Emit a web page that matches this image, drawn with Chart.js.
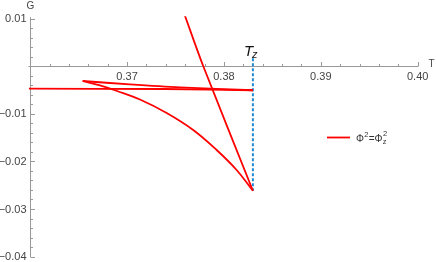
<!DOCTYPE html>
<html>
<head>
<meta charset="utf-8">
<script src="https://cdn.jsdelivr.net/npm/chart.js@4"></script>
<style>
html, body { margin: 0; padding: 0; background: #fff; }
</style>
</head>
<body>
<canvas id="gChart" width="436" height="262"></canvas>
<script>
// branches of G(T) for Phi^2 = Phi_z^2
// steep branch, from the top down to the lower cusp
const steepT = [0.37590, 0.37786, 0.38299];
const steepG = [0.01103, 0.00004, -0.02616];
// curved branch, lower cusp back up to the left cusp
const bowT = [0.38299, 0.38131, 0.37925, 0.37683, 0.37409, 0.37133, 0.36896, 0.36720, 0.36542];
const bowG = [-0.02616, -0.02181, -0.01761, -0.01340, -0.00983, -0.00700, -0.00521, -0.00405, -0.00311];
// short branch from left cusp to T_z
const innerT = [0.36542, 0.37030, 0.37546, 0.38299];
const innerG = [-0.00311, -0.00384, -0.00447, -0.00506];
// flat branch from T_z out to the left edge
const flatT = [0.38299, 0.37391, 0.35985];
const flatG = [-0.00506, -0.00479, -0.00473];

// dashed marker at T_z
const tzT = [0.38299, 0.38299];
const tzG = [0.00166, -0.02616];

const xTicks = [0.37, 0.38, 0.39, 0.40];
const yTicks = [0.01, -0.01, -0.02, -0.03, -0.04];
const legendLabel = ['\u03A6', '2', '=\u03A6', 'z', '2'];

const toPoints = (xs, ys) => xs.map((x, i) => ({ x: x, y: ys[i] }));

const redLine = (xs, ys, tension) => ({
  data: toPoints(xs, ys),
  showLine: true,
  borderColor: '#ff0000',
  borderWidth: 1.8,
  pointRadius: 0,
  tension: tension
});

const axesPlugin = {
  id: 'mmaAxes',
  beforeDatasetsDraw(chart) {
    const ctx = chart.ctx, sx = chart.scales.x, sy = chart.scales.y;
    const x0 = Math.round(sx.getPixelForValue(0.36)) + 0.5;
    const y0 = Math.round(sy.getPixelForValue(0)) + 0.5;
    ctx.save();
    ctx.strokeStyle = '#999';
    ctx.lineWidth = 1;
    ctx.beginPath();
    ctx.moveTo(x0 - 2, y0);
    ctx.lineTo(sx.getPixelForValue(0.40) + 0.5, y0);
    ctx.moveTo(x0, sy.getPixelForValue(0.0103));
    ctx.lineTo(x0, sy.getPixelForValue(-0.04) + 0.5);
    // x ticks point up
    for (let i = 0; i <= 20; i++) {
      const px = Math.round(sx.getPixelForValue(0.36 + i * 0.002)) + 0.5;
      const len = i % 5 === 0 ? 4.5 : 2.5;
      ctx.moveTo(px, y0);
      ctx.lineTo(px, y0 - len);
    }
    // y ticks point right
    for (let i = -20; i <= 5; i++) {
      const py = Math.round(sy.getPixelForValue(i * 0.002)) + 0.5;
      const len = i % 5 === 0 ? 4.5 : 2.5;
      ctx.moveTo(x0, py);
      ctx.lineTo(x0 + len, py);
    }
    ctx.stroke();

    ctx.fillStyle = '#444';
    ctx.font = '11px "Liberation Sans", Arial, sans-serif';
    ctx.textAlign = 'center';
    ctx.textBaseline = 'top';
    xTicks.forEach(v => ctx.fillText(v.toFixed(2), sx.getPixelForValue(v), y0 + 4.5));
    ctx.textAlign = 'right';
    ctx.textBaseline = 'middle';
    yTicks.forEach(v => {
      const s = (v < 0 ? '\u2212' : '') + Math.abs(v).toFixed(2);
      ctx.fillText(s, x0 - 4, sy.getPixelForValue(v) + 0.5);
    });
    ctx.font = '10px "Liberation Sans", Arial, sans-serif';
    ctx.textAlign = 'center';
    ctx.fillText('G', x0, 6);
    ctx.fillText('T', 431.5, 64.5);
    ctx.restore();
  },
  afterDraw(chart) {
    const ctx = chart.ctx, sx = chart.scales.x;
    ctx.save();
    ctx.fillStyle = '#111';
    ctx.textBaseline = 'alphabetic';
    ctx.textAlign = 'left';
    // T_z label above the dashed line
    const tx = sx.getPixelForValue(tzT[0]);
    ctx.font = 'italic 15px "Liberation Sans", Arial, sans-serif';
    ctx.fillText('T', tx - 9, 56);
    ctx.font = 'italic 11px "Liberation Sans", Arial, sans-serif';
    ctx.fillText('z', tx - 1, 58);

    // legend
    ctx.strokeStyle = '#ff0000';
    ctx.lineWidth = 1.8;
    ctx.beginPath();
    ctx.moveTo(327, 137.5);
    ctx.lineTo(350, 137.5);
    ctx.stroke();
    ctx.fillStyle = '#333';
    let x = 356;
    const base = 141.5;
    const big = '10px "Liberation Sans", Arial, sans-serif';
    const small = '7.5px "Liberation Sans", Arial, sans-serif';
    const offs = [0, -4.5, 0, 2.5, -5.5];
    legendLabel.forEach((s, i) => {
      ctx.font = (i === 0 || i === 2) ? big : small;
      ctx.fillText(s, x, base + offs[i]);
      x += ctx.measureText(s).width + (i === 3 ? -3.5 : 0.3);
    });
    ctx.restore();
  }
};

new Chart(document.getElementById('gChart'), {
  type: 'scatter',
  data: {
    datasets: [
      redLine(steepT, steepG, 0.3),
      redLine(bowT, bowG, 0.4),
      redLine(innerT, innerG, 0.3),
      redLine(flatT, flatG, 0.2),
      {
        data: toPoints(tzT, tzG),
        showLine: true,
        borderColor: '#1f8ad2',
        borderWidth: 2,
        borderDash: [3, 2],
        pointRadius: 0
      }
    ]
  },
  options: {
    responsive: false,
    animation: false,
    layout: { padding: { left: 28.7, right: 18.3, top: 16.2, bottom: 5.4 } },
    plugins: { legend: { display: false }, tooltip: { enabled: false } },
    scales: {
      x: { type: 'linear', display: false, min: 0.35985, max: 0.40 },
      y: { type: 'linear', display: false, min: -0.04, max: 0.0105 }
    }
  },
  plugins: [axesPlugin]
});
</script>
</body>
</html>
